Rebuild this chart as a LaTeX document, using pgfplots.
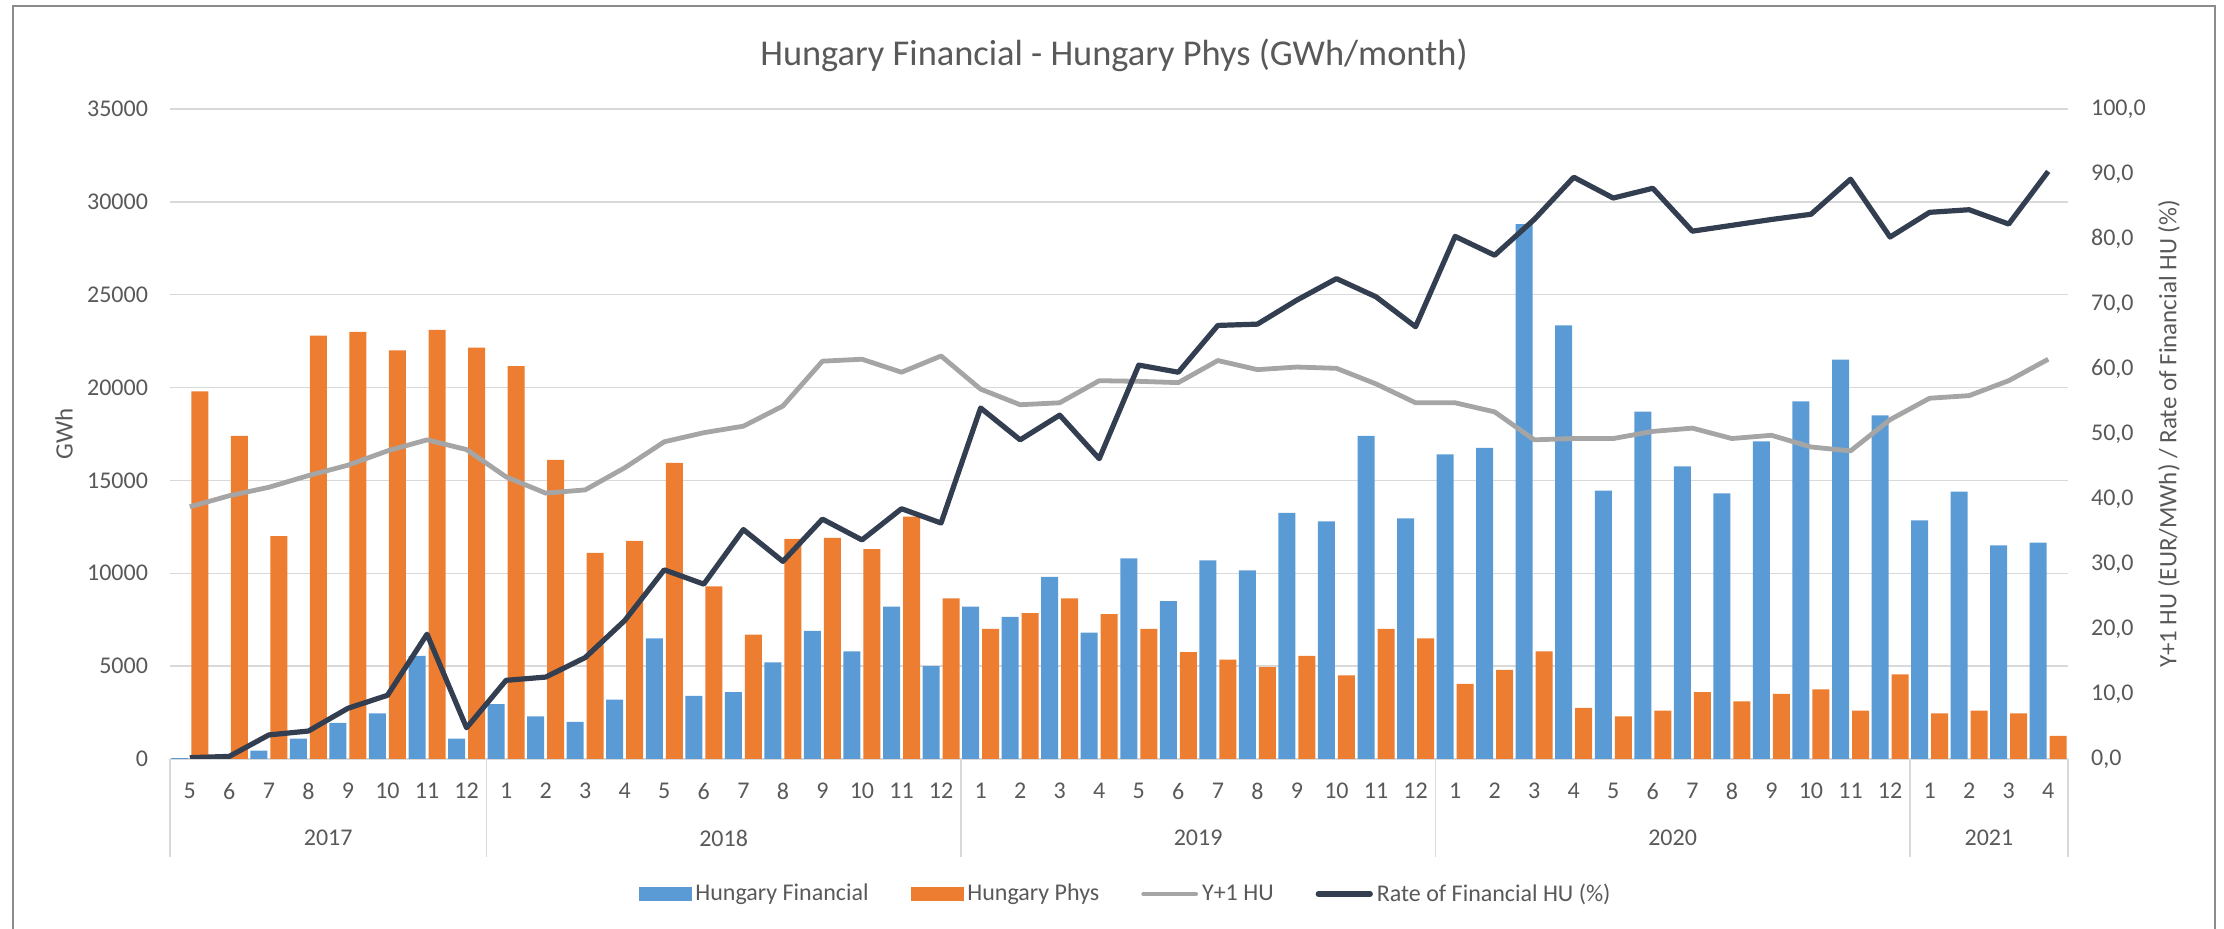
\documentclass[border=0pt]{standalone}
\usepackage{pgfplots}
\pgfplotsset{compat=1.18}
\usepackage{pgfplotstable}
\usepackage{fontspec}
\setmainfont{Carlito}
\definecolor{cfin}{HTML}{5B9BD5}
\definecolor{cphys}{HTML}{ED7D31}
\definecolor{cyone}{HTML}{A5A5A5}
\definecolor{crate}{HTML}{333F50}
\definecolor{ctext}{HTML}{595959}
\definecolor{cgrid}{HTML}{D9D9D9}
\definecolor{cframe}{HTML}{8C8C8C}

\pgfplotstableread{
idx fin phys yone rate
0 50 19800 38.8 0.2
1 80 17400 40.5 0.4
2 450 12000 41.8 3.7
3 1100 22800 43.6 4.3
4 1950 23000 45.2 7.8
5 2450 22000 47.4 9.8
6 5550 23100 49.1 19.2
7 1100 22150 47.6 4.8
8 2950 21150 43.4 12.1
9 2300 16100 40.9 12.6
10 2000 11100 41.4 15.6
11 3200 11750 44.8 21.3
12 6500 15950 48.8 29.1
13 3400 9300 50.2 26.9
14 3600 6700 51.2 35.3
15 5200 11850 54.3 30.4
16 6900 11900 61.2 36.9
17 5800 11300 61.5 33.7
18 8200 13050 59.5 38.5
19 5000 8650 62.0 36.3
20 8200 7000 56.9 54.0
21 7650 7850 54.5 49.1
22 9800 8650 54.8 52.9
23 6800 7800 58.2 46.2
24 10800 7000 58.1 60.6
25 8500 5750 57.9 59.5
26 10700 5350 61.3 66.7
27 10150 4950 59.9 66.9
28 13250 5550 60.3 70.6
29 12800 4500 60.1 73.9
30 17400 7000 57.7 71.1
31 12950 6500 54.8 66.5
32 16400 4050 54.8 80.4
33 16750 4800 53.4 77.5
34 28800 5800 49.1 83.0
35 23350 2750 49.3 89.5
36 14450 2300 49.3 86.3
37 18700 2600 50.4 87.8
38 15750 3600 50.9 81.2
39 14300 3100 49.3 82.1
40 17100 3500 49.8 83.0
41 19250 3750 48.0 83.8
42 21500 2600 47.4 89.2
43 18500 4550 52.2 80.3
44 12850 2450 55.5 84.1
45 14400 2600 55.9 84.5
46 11500 2450 58.2 82.3
47 11650 1250 61.5 90.4
}\datatable

\begin{document}
\begin{tikzpicture}
\path[use as bounding box] (0,0) rectangle (1112pt,464.5pt);
\draw[cframe, line width=0.8pt] (6.4pt,-1pt) -- (6.4pt,461.5pt) -- (1107.5pt,461.5pt) -- (1107.5pt,-1pt);
\node[font=\fontsize{18.2}{22}\selectfont, text=ctext] at (557pt,437pt) {Hungary Financial - Hungary Phys (GWh/month)};

\begin{axis}[
  at={(85pt,85pt)}, anchor=south west,
  width=949pt, height=325pt, scale only axis,
  xmin=-0.5, xmax=47.5, ymin=0, ymax=35000,
  ybar=1.5pt, bar width=8.5pt,
  axis x line*=bottom, axis y line*=left,
  y axis line style={draw=none},
  x axis line style={cgrid, line width=0.7pt},
  tick align=outside, major tick length=0pt,
  xtick={0,...,47},
  xticklabels={5,6,7,8,9,10,11,12,1,2,3,4,5,6,7,8,9,10,11,12,1,2,3,4,5,6,7,8,9,10,11,12,1,2,3,4,5,6,7,8,9,10,11,12,1,2,3,4},
  xticklabel style={font=\fontsize{12}{14}\selectfont, text=ctext, yshift=-8.5pt},
  extra x ticks={-0.5,7.5,19.5,31.5,43.5,47.5},
  extra x tick labels={},
  extra x tick style={grid=none, major tick length=49pt, major tick style={cgrid, line width=0.7pt}},
  ytick={0,5000,...,35000},
  scaled y ticks=false,
  yticklabel style={font=\fontsize{12}{14}\selectfont, text=ctext, xshift=-7.5pt,
    /pgf/number format/1000 sep={}, /pgf/number format/assume math mode=true},
  ymajorgrids, grid style={cgrid, line width=0.7pt},
  ylabel={GWh},
  every axis y label/.style={at={(axis description cs:-0.0558,0.5)}, rotate=90, anchor=center, font=\fontsize{12.5}{15}\selectfont, text=ctext},
  clip=false,
]
\addplot[fill=cfin, draw=none] table[x=idx, y=fin] {\datatable};
\addplot[fill=cphys, draw=none] table[x=idx, y=phys] {\datatable};
\node[font=\fontsize{12}{14}\selectfont, text=ctext, yshift=-39.5pt] at (axis cs:3.5,0) {2017};
\node[font=\fontsize{12}{14}\selectfont, text=ctext, yshift=-39.5pt] at (axis cs:13.5,0) {2018};
\node[font=\fontsize{12}{14}\selectfont, text=ctext, yshift=-39.5pt] at (axis cs:25.5,0) {2019};
\node[font=\fontsize{12}{14}\selectfont, text=ctext, yshift=-39.5pt] at (axis cs:37.5,0) {2020};
\node[font=\fontsize{12}{14}\selectfont, text=ctext, yshift=-39.5pt] at (axis cs:45.5,0) {2021};
\end{axis}

\begin{axis}[
  at={(85pt,85pt)}, anchor=south west,
  width=949pt, height=325pt, scale only axis,
  xmin=-0.5, xmax=47.5, ymin=0, ymax=100,
  axis x line=none, axis y line*=right,
  y axis line style={draw=none},
  major tick length=0pt,
  ytick={0,10,...,100},
  yticklabel style={font=\fontsize{12}{14}\selectfont, text=ctext, xshift=8pt,
    /pgf/number format/fixed, /pgf/number format/fixed zerofill,
    /pgf/number format/precision=1, /pgf/number format/use comma,
    /pgf/number format/assume math mode=true},
  ylabel={Y+1 HU (EUR/MWh) / Rate of Financial HU (\%)},
  every axis y label/.style={at={(axis description cs:1.0532,0.5)}, rotate=90, anchor=center, font=\fontsize{12.5}{15}\selectfont, text=ctext},
  legend style={at={(0.504,-0.2077)}, anchor=center, draw=none, fill=none,
    legend columns=4, font=\fontsize{12}{14}\selectfont, text=ctext,
    /tikz/every even column/.append style={column sep=19pt}},
  legend cell align=left,
]
\addlegendimage{legend image code/.code={\fill[cfin] (0pt,-3.2pt) rectangle (26pt,3.2pt);}}
\addlegendentry{Hungary Financial}
\addlegendimage{legend image code/.code={\fill[cphys] (0pt,-3.2pt) rectangle (26pt,3.2pt);}}
\addlegendentry{Hungary Phys}
\addplot[cyone, line width=2.4pt, line join=round, mark=none,
  legend image code/.code={\draw[cyone, line width=2.4pt, line cap=round] (0pt,0pt) -- (26pt,0pt);}]
  table[x=idx, y=yone] {\datatable};
\addlegendentry{Y+1 HU}
\addplot[crate, line width=2.6pt, line join=round, mark=none,
  legend image code/.code={\draw[crate, line width=2.6pt, line cap=round] (0pt,0pt) -- (26pt,0pt);}]
  table[x=idx, y=rate] {\datatable};
\addlegendentry{Rate of Financial HU (\%)}
\end{axis}
\end{tikzpicture}
\end{document}
